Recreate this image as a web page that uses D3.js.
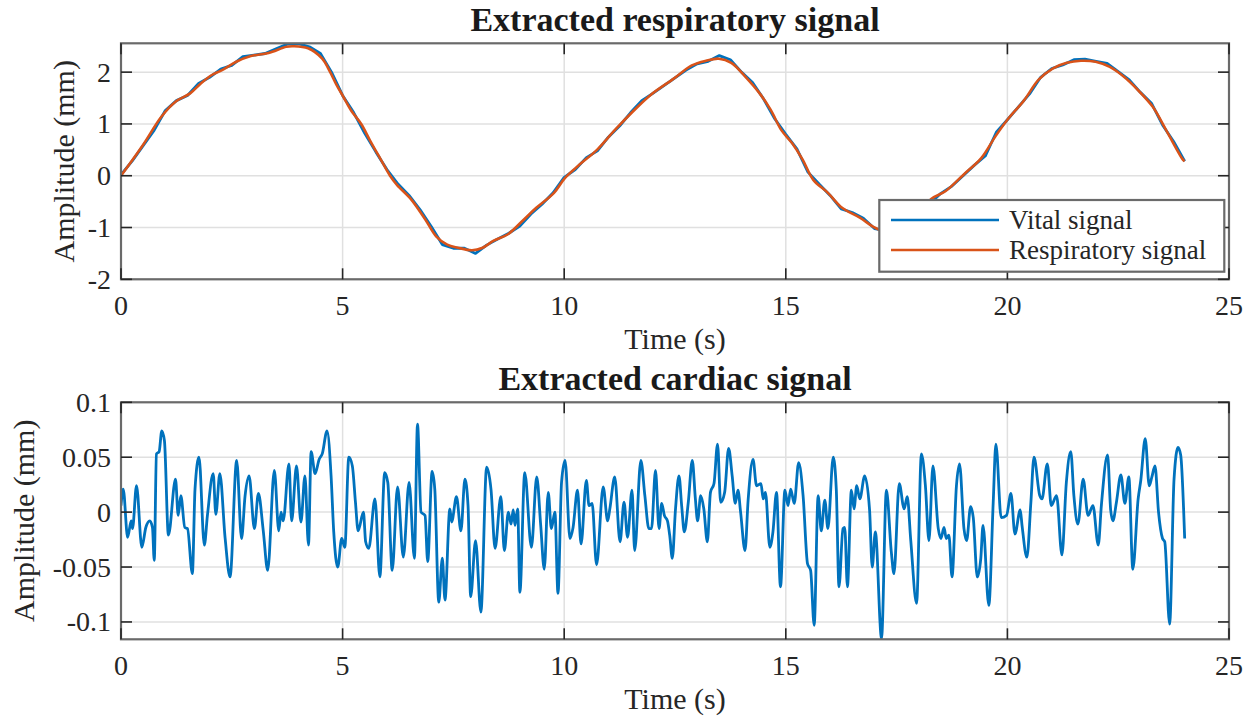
<!DOCTYPE html>
<meta charset="utf-8">
<style>
body { margin: 0; background: #ffffff; }
svg text { font-family: "Liberation Serif", "Times New Roman", serif; fill: #262626; }
.grid line { stroke: #e0e0e0; stroke-width: 1.5; }
.box { fill: none; stroke: #6a6a6a; stroke-width: 2.2; }
.tick { stroke: #262626; stroke-width: 1.6; }
</style>
<body>
<svg id="fig" width="1246" height="718"></svg>

<script src="https://d3js.org/d3.v7.min.js"></script>
<script>
// ---- data ----
var xTicks = [0, 5, 10, 15, 20, 25];
var respTicks = [-2, -1, 0, 1, 2];
var cardTicks = [-0.1, -0.05, 0, 0.05, 0.1];

// respiratory signal (orange), time in s / amplitude in mm
var respTime = [0, 0.5, 0.91, 1.23, 1.56, 1.8, 2.04, 2.28, 2.6, 2.93, 3.33, 3.73, 3.89, 4.22, 4.54, 4.72, 4.86, 5.02, 5.2, 5.42,
  5.62, 5.85, 6.07, 6.23, 6.55, 6.87, 7.11, 7.36, 7.6, 7.92, 8.16, 8.4, 8.73, 9.05, 9.37, 9.77, 10.02, 10.34, 10.74, 11.14,
  11.55, 11.95, 12.48, 12.88, 13.2, 13.49, 13.77, 14.09, 14.41, 14.66, 14.9, 15.14, 15.38, 15.62, 15.95, 16.27, 16.67, 17.07, 17.45, 17.85,
  18.28, 18.6, 19.01, 19.41, 19.73, 20.0, 20.38, 20.7, 21.02, 21.34, 21.66, 21.99, 22.31, 22.63, 22.95, 23.28, 23.6, 23.96, 24.0];
var respAmp = [0, 0.6, 1.14, 1.43, 1.59, 1.78, 1.94, 2.04, 2.2, 2.31, 2.37, 2.49, 2.5, 2.46, 2.26, 2.0, 1.76, 1.52, 1.25, 1.0,
  0.68, 0.33, 0.0, -0.18, -0.46, -0.85, -1.17, -1.33, -1.39, -1.44, -1.39, -1.26, -1.13, -0.88, -0.62, -0.33, -0.04, 0.21, 0.5, 0.88,
  1.24, 1.56, 1.88, 2.13, 2.22, 2.26, 2.18, 1.91, 1.59, 1.27, 0.88, 0.63, 0.31, -0.08, -0.33, -0.62, -0.81, -1.03, -1.1, -0.9,
  -0.45, -0.3, 0.02, 0.34, 0.76, 1.08, 1.46, 1.85, 2.07, 2.18, 2.22, 2.2, 2.1, 1.91, 1.65, 1.33, 0.85, 0.31, 0.28];

// vital signal (blue), sampled every 0.25 s from 0 to 24 s
var vitalStep = 0.25;
var vitalAmp = [0.02, 0.28, 0.58, 0.88, 1.26, 1.45, 1.55, 1.78, 1.90, 2.06, 2.13, 2.30, 2.33, 2.36, 2.45, 2.54, 2.55, 2.49, 2.36, 2.0,
  1.55, 1.22, 0.82, 0.46, 0.12, -0.16, -0.38, -0.66, -0.98, -1.33, -1.40, -1.40, -1.50, -1.34, -1.22, -1.11, -0.97, -0.74, -0.55, -0.33,
  -0.03, 0.12, 0.35, 0.48, 0.75, 0.96, 1.22, 1.45, 1.59, 1.74, 1.89, 2.04, 2.16, 2.21, 2.32, 2.24, 2.0, 1.80, 1.48, 1.10,
  0.80, 0.52, 0.07, -0.16, -0.38, -0.64, -0.71, -0.82, -1.02, -1.06, -1.09, -0.97, -0.78, -0.54, -0.34, -0.20, 0.00, 0.20, 0.38, 0.84,
  1.08, 1.33, 1.58, 1.90, 2.07, 2.14, 2.24, 2.25, 2.21, 2.17, 2.01, 1.85, 1.61, 1.40, 0.98, 0.66, 0.28];

// cardiac signal (blue), turning points
var cardTime = [0, 0.05, 0.15, 0.23, 0.26, 0.35, 0.47, 0.56, 0.65, 0.71, 0.75, 0.80, 0.86, 0.92, 0.98, 1.07, 1.23, 1.29, 1.35, 1.44,
  1.50, 1.61, 1.67, 1.76, 1.88, 1.95, 2.08, 2.14, 2.23, 2.35, 2.46, 2.61, 2.72, 2.80, 2.89, 3.01, 3.10, 3.21, 3.31, 3.46,
  3.56, 3.61, 3.66, 3.79, 3.85, 3.96, 4.06, 4.15, 4.23, 4.29, 4.38, 4.47, 4.54, 4.65, 4.74, 4.80, 4.89, 4.98, 5.05, 5.14,
  5.22, 5.29, 5.35, 5.47, 5.52, 5.59, 5.73, 5.84, 5.95, 6.02, 6.12, 6.24, 6.37, 6.50, 6.62, 6.69, 6.77, 6.86, 6.92, 7.02,
  7.08, 7.17, 7.25, 7.31, 7.42, 7.46, 7.57, 7.67, 7.76, 7.83, 7.89, 8.00, 8.12, 8.25, 8.35, 8.44, 8.57, 8.65, 8.74, 8.80,
  8.85, 8.89, 8.95, 9.00, 9.11, 9.26, 9.38, 9.47, 9.55, 9.64, 9.71, 9.79, 9.86, 9.94, 10.02, 10.13, 10.20, 10.30, 10.38, 10.50,
  10.56, 10.63, 10.73, 10.88, 10.98, 11.03, 11.14, 11.26, 11.35, 11.43, 11.53, 11.59, 11.73, 11.82, 11.91, 11.97, 12.06, 12.14, 12.20, 12.26,
  12.33, 12.38, 12.44, 12.51, 12.59, 12.65, 12.71, 12.80, 12.89, 12.96, 13.01, 13.08, 13.15, 13.23, 13.30, 13.38, 13.46, 13.53, 13.62, 13.71,
  13.79, 13.86, 13.92, 13.98, 14.08, 14.15, 14.26, 14.34, 14.44, 14.49, 14.54, 14.64, 14.71, 14.79, 14.88, 14.98, 15.05, 15.11, 15.19, 15.29,
  15.39, 15.49, 15.56, 15.64, 15.73, 15.80, 15.88, 15.95, 16.07, 16.14, 16.20, 16.29, 16.33, 16.39, 16.48, 16.54, 16.60, 16.67, 16.78, 16.89,
  16.95, 17.02, 17.16, 17.27, 17.38, 17.44, 17.56, 17.67, 17.74, 17.82, 17.95, 18.06, 18.15, 18.23, 18.32, 18.44, 18.50, 18.57, 18.62, 18.68,
  18.75, 18.85, 18.92, 19.02, 19.08, 19.17, 19.23, 19.32, 19.40, 19.45, 19.58, 19.68, 19.74, 19.86, 19.98, 20.08, 20.17, 20.29, 20.33, 20.44,
  20.53, 20.60, 20.73, 20.78, 20.90, 20.99, 21.11, 21.23, 21.33, 21.43, 21.50, 21.59, 21.71, 21.82, 21.93, 22.05, 22.12, 22.26, 22.33, 22.38,
  22.46, 22.56, 22.65, 22.74, 22.83, 22.95, 23.01, 23.11, 23.20, 23.26, 23.33, 23.41, 23.50, 23.55, 23.66, 23.76, 23.85, 23.91, 24.00];
var cardAmp = [0.006, 0.021, -0.023, -0.008, -0.015, 0.024, -0.032, -0.014, -0.008, -0.014, -0.044, 0.053, 0.055, 0.074, 0.065, -0.021, 0.030, -0.003, 0.015, -0.014,
  -0.015, -0.056, 0.021, 0.050, -0.030, -0.003, 0.035, -0.002, 0.035, -0.024, -0.059, 0.047, -0.024, 0.015, 0.033, -0.015, 0.017, -0.017, -0.053, 0.038,
  -0.017, 0.000, -0.008, 0.044, -0.008, 0.042, -0.009, 0.033, -0.030, 0.055, 0.035, 0.048, 0.053, 0.074, 0.033, -0.018, -0.050, -0.024, -0.032, 0.050,
  0.042, 0.009, -0.017, 0.000, -0.027, -0.033, 0.012, -0.059, 0.036, 0.027, -0.053, 0.023, -0.041, 0.027, -0.042, 0.080, 0.000, -0.003, -0.045, 0.037,
  0.021, -0.082, -0.042, -0.080, 0.003, -0.009, 0.014, -0.017, 0.030, 0.006, -0.077, -0.026, -0.091, 0.041, 0.020, -0.033, 0.014, -0.035, 0.000, -0.011,
  0.002, -0.012, 0.003, -0.073, 0.036, -0.032, 0.032, -0.012, -0.052, 0.018, -0.015, 0.000, -0.074, 0.027, 0.047, -0.024, -0.014, 0.020, -0.029, 0.029,
  0.006, 0.008, -0.048, 0.023, -0.008, 0.003, 0.032, -0.027, 0.009, -0.023, 0.020, -0.035, 0.047, 0.015, -0.015, -0.015, 0.038, -0.015, 0.008, -0.003,
  -0.008, -0.021, -0.042, 0.002, 0.033, 0.006, -0.018, 0.009, 0.047, 0.012, -0.008, 0.015, 0.003, -0.027, 0.018, 0.026, 0.062, 0.009, 0.018, 0.058,
  0.033, 0.008, 0.020, 0.000, -0.035, 0.011, 0.048, 0.024, 0.026, 0.012, 0.018, -0.032, -0.018, 0.018, -0.068, 0.020, 0.006, 0.021, 0.008, 0.045,
  0.015, -0.047, -0.053, -0.103, 0.015, -0.017, 0.011, -0.015, 0.050, 0.020, -0.068, -0.015, -0.014, -0.068, 0.020, 0.003, 0.024, 0.012, 0.033, 0.002,
  -0.050, -0.018, -0.115, 0.020, -0.036, -0.056, 0.026, 0.003, 0.014, -0.026, -0.083, 0.053, 0.024, -0.026, 0.042, -0.015, -0.024, -0.014, -0.024, -0.021,
  -0.059, 0.024, 0.044, -0.015, -0.026, 0.005, -0.005, -0.059, -0.042, -0.012, -0.085, 0.009, 0.062, -0.005, -0.003, 0.017, -0.020, 0.002, -0.012, -0.041,
  0.009, 0.050, 0.015, 0.012, 0.044, 0.006, 0.015, -0.039, 0.027, 0.055, 0.015, -0.011, 0.030, -0.003, 0.006, -0.030, 0.006, 0.052, 0.002, -0.008,
  0.009, 0.034, 0.008, 0.032, -0.052, 0.012, 0.029, 0.067, 0.024, 0.032, 0.042, 0.000, -0.024, -0.027, -0.102, 0.030, 0.059, 0.052, -0.024];

var blue = "#0072BD", orange = "#D95319";

var svg = d3.select("#fig");
var x = d3.scaleLinear().domain([0, 25]).range([121, 1229]);

function fmt(d) { return String(d).replace("\u2212", "-"); }

function drawPanel(p) {
  var y = d3.scaleLinear().domain(p.yDomain).range([p.bottom, p.top]);
  var g = svg.append("g");

  // grid
  var grid = g.append("g").attr("class", "grid");
  grid.selectAll(".gx").data(xTicks).enter().append("line")
    .attr("x1", d => x(d)).attr("x2", d => x(d)).attr("y1", p.top).attr("y2", p.bottom);
  grid.selectAll(".gy").data(p.yTicks).enter().append("line")
    .attr("x1", x(0)).attr("x2", x(25)).attr("y1", d => y(d)).attr("y2", d => y(d));

  // lines, clipped to axes
  var clipId = "clip" + p.id;
  svg.append("clipPath").attr("id", clipId).append("rect")
    .attr("x", x(0)).attr("y", p.top).attr("width", x(25) - x(0)).attr("height", p.bottom - p.top);
  var plot = g.append("g").attr("clip-path", "url(#" + clipId + ")");
  p.series.forEach(function(s) {
    var line = d3.line().x(d => x(d[0])).y(d => y(d[1])).curve(s.curve);
    plot.append("path").datum(s.data).attr("d", line)
      .attr("fill", "none").attr("stroke", s.color).attr("stroke-width", s.width)
      .attr("stroke-linejoin", "round");
  });

  // box
  g.append("rect").attr("class", "box")
    .attr("x", x(0)).attr("y", p.top).attr("width", x(25) - x(0)).attr("height", p.bottom - p.top);

  // ticks on all four sides
  var tl = 11;
  xTicks.forEach(function(d) {
    g.append("line").attr("class", "tick").attr("x1", x(d)).attr("x2", x(d)).attr("y1", p.bottom).attr("y2", p.bottom - tl);
    g.append("line").attr("class", "tick").attr("x1", x(d)).attr("x2", x(d)).attr("y1", p.top).attr("y2", p.top + tl);
  });
  p.yTicks.forEach(function(d) {
    g.append("line").attr("class", "tick").attr("x1", x(0)).attr("x2", x(0) + tl).attr("y1", y(d)).attr("y2", y(d));
    g.append("line").attr("class", "tick").attr("x1", x(25)).attr("x2", x(25) - tl).attr("y1", y(d)).attr("y2", y(d));
  });

  // tick labels
  g.selectAll(".xl").data(xTicks).enter().append("text")
    .attr("x", d => x(d)).attr("y", p.bottom + 36).attr("text-anchor", "middle")
    .style("font-size", "28px").text(fmt);
  g.selectAll(".yl").data(p.yTicks).enter().append("text")
    .attr("x", 111).attr("y", d => y(d)).attr("dy", "0.34em").attr("text-anchor", "end")
    .style("font-size", "28px").text(fmt);

  // labels and title
  g.append("text").attr("x", (x(0) + x(25)) / 2).attr("y", p.bottom + 70)
    .attr("text-anchor", "middle").style("font-size", "30px").text("Time (s)");
  g.append("text").attr("transform", "translate(" + p.ylabelX + "," + (p.top + p.bottom) / 2 + ") rotate(-90)")
    .attr("text-anchor", "middle").style("font-size", "30px").text("Amplitude (mm)");
  g.append("text").attr("x", (x(0) + x(25)) / 2).attr("y", p.top - 12)
    .attr("text-anchor", "middle").style("font-size", "34px").style("font-weight", "bold")
    .style("fill", "#1a1a1a").text(p.title);

  return g;
}

var respData = respTime.map((t, i) => [t, respAmp[i]]);
var vitalData = vitalAmp.map((v, i) => [i * vitalStep, v]);
var cardData = cardTime.map((t, i) => [t, cardAmp[i]]);

drawPanel({
  id: 1, top: 43.3, bottom: 279.3, yDomain: [-2, 2.557], yTicks: respTicks, ylabelX: 74,
  title: "Extracted respiratory signal",
  series: [
    { data: vitalData, color: blue, curve: d3.curveLinear, width: 2.8 },
    { data: respData, color: orange, curve: d3.curveCatmullRom.alpha(0.5), width: 2.6 }
  ]
});

drawPanel({
  id: 2, top: 402.3, bottom: 639.3, yDomain: [-0.1158, 0.1], yTicks: cardTicks, ylabelX: 34,
  title: "Extracted cardiac signal",
  series: [
    { data: cardData, color: blue, curve: d3.curveMonotoneX, width: 2.8 }
  ]
});

// legend of top panel
var legendItems = [
  { name: "Vital signal", color: blue },
  { name: "Respiratory signal", color: orange }
];
var lg = svg.append("g");
lg.append("rect").attr("x", 879.3).attr("y", 200).attr("width", 345).attr("height", 71.7)
  .attr("fill", "#ffffff").attr("stroke", "#6a6a6a").attr("stroke-width", 2.2);
legendItems.forEach(function(d, i) {
  var yy = 220 + i * 30;
  lg.append("line").attr("x1", 891).attr("x2", 999).attr("y1", yy).attr("y2", yy)
    .attr("stroke", d.color).attr("stroke-width", 2.6);
  lg.append("text").attr("x", 1009).attr("y", yy).attr("dy", "0.34em")
    .style("font-size", "27px").text(d.name);
});
</script>
</body>
